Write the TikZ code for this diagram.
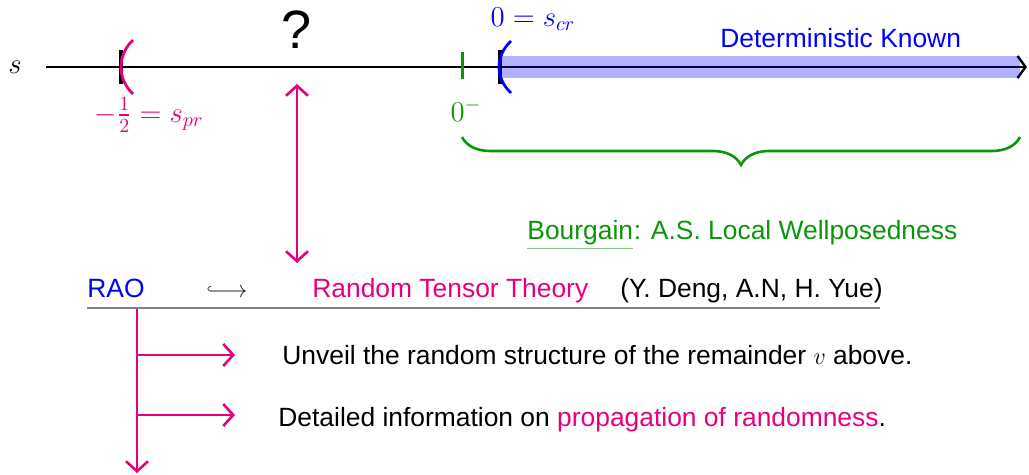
\documentclass[tikz,border=0pt]{standalone}
\usepackage{amsmath,amssymb}
\usepackage{fontspec}
\newfontfamily\helvfont{Liberation Sans}
\usetikzlibrary{arrows.meta,positioning,decorations.pathreplacing}
\definecolor{raopink}{RGB}{230,0,126}
\definecolor{bgreen}{RGB}{10,150,10}
\definecolor{raoblue}{RGB}{0,0,255}

\begin{document}
\begin{tikzpicture}[x=0.5pt,y=-0.5pt,
    txt/.style={font=\helvfont\fontsize{13.2}{16}\selectfont, inner sep=0pt, anchor=base west},
    lbl/.style={font=\fontsize{14}{17}\selectfont, inner sep=0pt},
    paren/.style={line width=1.4pt},
    brk/.style={line width=1.6pt},
    parrow/.style={raopink, line width=1.3pt, -{Straight Barb[length=5pt,width=11pt]}}
]
    \useasboundingbox (0,0) rectangle (1029,475);

    % the s axis
    \node[lbl] (s) at (15,67) {$s$};
    \coordinate (sL) at (46,67);
    \coordinate (sR) at (1027,67);
    \draw[line width=1.2pt, -{Straight Barb[length=4pt,width=11pt]}] (sL) -- (sR);
    \fill[raoblue, opacity=0.3] (500,56) rectangle (1020,78);

    % endpoints
    \draw[brk] (123,52) -- (121,52) -- (121,82) -- (123,82);
    \draw[raopink, paren] (133,40) .. controls (117,55) and (117,79) .. (133,94);
    \draw[brk] (502,52) -- (500,52) -- (500,82) -- (502,82);
    \draw[raoblue, paren] (511,41) .. controls (495,56) and (495,78) .. (511,93);
    \draw[bgreen, line width=1.5pt] (462,52) -- (462,79);

    \node[lbl, text=raopink] (spr) at (149,115) {$-\frac{1}{2}=s_{pr}$};
    \node[lbl, text=bgreen] (zm) at (466,110) {$0^-$};
    \node[lbl, text=raoblue] (scr) at (533,19) {$0=s_{cr}$};
    \node[txt, text=raoblue] (det) at (720,48) {Deterministic Known};
    \node[font=\helvfont\fontsize{27}{30}\selectfont, inner sep=0pt] (q) at (297,30) {?};

    % Bourgain range
    \draw[bgreen, line width=1.3pt, decorate, decoration={brace, mirror, amplitude=14pt}] (462,137) -- (1020,137);
    \node[txt, text=bgreen] (bour) at (527,240) {Bourgain};
    \node[txt, text=bgreen] (lwp) at (bour.base east) {: A.S. Local Wellposedness};
    \draw[bgreen!50, line width=0.7pt] ([yshift=-1.4pt]bour.south west) -- ([yshift=-1.4pt]bour.south east);

    % open window
    \coordinate (qa) at (297,84);
    \coordinate (qb) at (297,263);
    \draw[raopink, line width=1.3pt, {Straight Barb[length=5pt,width=11pt]}-{Straight Barb[length=5pt,width=11pt]}] (qa) -- (qb);

    % RAO row
    \node[txt, text=raoblue] (rao) at (87,298) {RAO};
    \node[font=\fontsize{12}{14}\selectfont, inner sep=0pt, text=black!85] (hook) at (227,292) {$\lhook\joinrel\longrightarrow$};
    \node[txt, text=raopink] (rtt) at (312,298) {Random Tensor Theory};
    \node[txt] (dny) at (620,298) {(Y. Deng, A.N, H. Yue)};
    \coordinate (ulL) at (87,308);
    \coordinate (ulR) at (880,308);
    \draw[gray, line width=1pt] (ulL) -- (ulR);

    % consequences
    \coordinate (vt) at (137,309);
    \coordinate (vb) at (137,473);
    \draw[parrow] (vt) -- (vb);
    \coordinate (b1) at (137,355);
    \coordinate (e1) at (235,355);
    \coordinate (b2) at (137,415);
    \coordinate (e2) at (235,415);
    \draw[parrow] (b1) -- (e1);
    \draw[parrow] (b2) -- (e2);
    \node[txt] (unv) at (282,365) {Unveil the random structure of the remainder $v$ above.};
    \node[txt] (info) at (278,427) {Detailed information on \textcolor{raopink}{propagation of randomness}.};
\end{tikzpicture}
\end{document}
